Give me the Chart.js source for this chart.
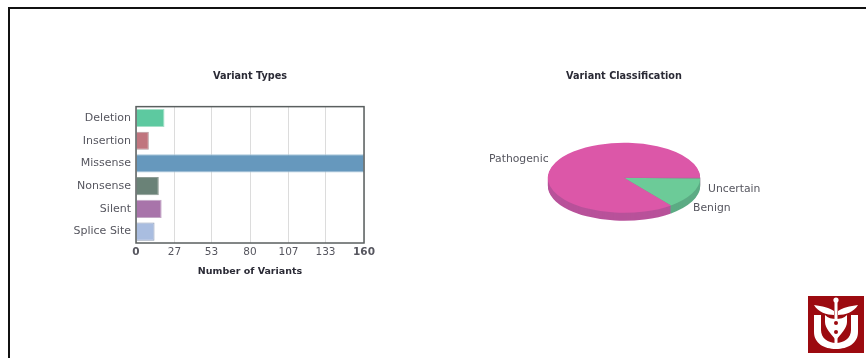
<!DOCTYPE html>
<html>
<head>
<meta charset="utf-8">
<title>Variant summary</title>
<script src="https://cdn.jsdelivr.net/npm/chart.js@4"></script>
<style>
  html, body { margin: 0; padding: 0; background: #fff; width: 866px; height: 358px; overflow: hidden; }
  canvas { position: absolute; }
  #frame { position: absolute; left: 8px; top: 7px; width: 870px; height: 360px; border: 2px solid #111; box-sizing: border-box; }
  #crest { position: absolute; left: 808px; top: 296px; width: 56px; height: 57px; }
</style>
</head>
<body>
<div id="frame"></div>
<canvas id="types" width="420" height="230" style="left:40px;top:60px"></canvas>
<canvas id="classes" width="308" height="196" style="left:470px;top:60px"></canvas>
<svg id="crest" viewBox="0 0 56 57">
  <rect width="56" height="57" fill="#9c0a10"/>
  <path d="M6 19h7v15c0 8 7 13 15 13s15-5 15-13V19h7v17c0 11-10 17-22 17S6 47 6 36z" fill="#fff"/>
  <path d="M6 9c8 1 16 3 20 6v4C19 19 10 16 6 9zM50 9c-8 1-16 3-20 6v4c7 0 16-3 20-10z" fill="#fff"/>
  <path d="M17 19c3 3 7 4 11 4s8-1 11-4v7c0 6-6 12-11 18-5-6-11-12-11-18z" fill="#fff"/>
  <rect x="26.5" y="3" width="3" height="44" fill="#fff"/>
  <circle cx="28" cy="4" r="2.6" fill="#fff"/>
  <circle cx="28" cy="27" r="2" fill="#9c0a10"/>
  <circle cx="28" cy="36" r="2" fill="#9c0a10"/>
</svg>
<script>
// Variant type counts
const typeLabels = ['Deletion', 'Insertion', 'Missense', 'Nonsense', 'Silent', 'Splice Site'];
const typeCounts = [20, 9, 160, 16, 18, 13];
const typeColors = ['#5dc9a0', '#c0757e', '#6698bd', '#6a8277', '#a874aa', '#a9bde0'];
const typeEdges = ['#a5e0c8', '#b59a9e', '#a9c6da', '#8f9c95', '#c3a8c5', '#8f9cb4'];
const countTicks = [0, 27, 53, 80, 107, 133, 160];

// Variant classification counts
const classLabels = ['Uncertain', 'Benign', 'Pathogenic'];
const classCounts = [1, 33, 202];
const classColors = ['#7d9c8c', '#6ccb98', '#dc57a8'];
const classSides = ['#6a9a82', '#5cab84', '#b8529a'];

const fontFamily = '"DejaVu Sans", Verdana, sans-serif';
const titleColor = '#2a2a35';
const labelColor = '#56565f';

// Outlines the plot area on all four sides, above the bars
const plotFrame = {
  id: 'plotFrame',
  afterDatasetsDraw(chart) {
    const { ctx, chartArea: a } = chart;
    ctx.save();
    ctx.strokeStyle = '#5a5f5f';
    ctx.lineWidth = 1.5;
    ctx.strokeRect(a.left, a.top, a.right - a.left, a.bottom - a.top);
    ctx.restore();
  }
};

new Chart(document.getElementById('types'), {
  type: 'bar',
  data: {
    labels: typeLabels,
    datasets: [{
      data: typeCounts,
      backgroundColor: typeColors,
      borderColor: typeEdges,
      borderWidth: 1,
      categoryPercentage: 1,
      barPercentage: 0.8
    }]
  },
  options: {
    indexAxis: 'y',
    responsive: false,
    animation: false,
    layout: { padding: { right: 96, bottom: 13 } },
    plugins: {
      legend: { display: false },
      tooltip: { enabled: false },
      title: {
        display: true,
        fullSize: false,
        text: 'Variant Types',
        color: titleColor,
        font: { family: fontFamily, size: 9.7, weight: 'bold' },
        padding: { top: 11, bottom: 24 }
      }
    },
    scales: {
      x: {
        min: 0,
        max: 160,
        afterBuildTicks(scale) { scale.ticks = countTicks.map(v => ({ value: v })); },
        grid: { color: '#dcdcdc', lineWidth: 1, drawTicks: false },
        border: { display: false },
        ticks: {
          color: labelColor,
          padding: 3,
          maxRotation: 0,
          autoSkip: false,
          font: c => ({
            family: fontFamily,
            size: 10.5,
            weight: (c.index === 0 || c.index === countTicks.length - 1) ? 'bold' : 'normal'
          })
        },
        title: {
          display: true,
          text: 'Number of Variants',
          color: titleColor,
          font: { family: fontFamily, size: 9.5, weight: 'bold' },
          padding: { top: 4, bottom: 0 }
        }
      },
      y: {
        afterFit(scale) { scale.width = 96; },
        grid: { display: false, drawTicks: false },
        border: { display: false },
        ticks: {
          color: labelColor,
          padding: 5,
          font: { family: fontFamily, size: 11 }
        }
      }
    }
  },
  plugins: [plotFrame]
});

// Slice label anchors, measured from the pie centre
const labelOffsets = {
  Pathogenic: [-135, -19],
  Benign: [69, 30],
  Uncertain: [84, 11]
};

// Tilts the pie into an ellipse and gives it a rim below the top face
const tiltRatio = 0.46;
const rimDepth = 8;
const tiltedPie = {
  id: 'tiltedPie',
  beforeDatasetsDraw(chart) {
    const { ctx } = chart;
    const arcs = chart.getDatasetMeta(0).data;
    const { x: cx, y: cy } = arcs[0];
    const tilt = () => {
      ctx.translate(cx, cy);
      ctx.scale(1, tiltRatio);
      ctx.translate(-cx, -cy);
    };
    for (let d = rimDepth; d >= 1; d--) {
      arcs.forEach((arc, i) => {
        ctx.save();
        ctx.translate(0, d);
        tilt();
        ctx.beginPath();
        ctx.moveTo(cx, cy);
        ctx.arc(cx, cy, arc.outerRadius, arc.startAngle, arc.endAngle);
        ctx.closePath();
        ctx.fillStyle = classSides[i];
        ctx.fill();
        ctx.restore();
      });
    }
    ctx.save();
    tilt();
  },
  afterDatasetsDraw(chart) {
    const { ctx } = chart;
    ctx.restore();
    ctx.save();
    ctx.fillStyle = labelColor;
    ctx.font = '10.8px ' + fontFamily;
    ctx.textBaseline = 'middle';
    const { x: cx, y: cy } = chart.getDatasetMeta(0).data[0];
    classLabels.forEach(label => {
      const spot = labelOffsets[label];
      ctx.fillText(label, cx + spot[0], cy + spot[1]);
    });
    ctx.restore();
  }
};

new Chart(document.getElementById('classes'), {
  type: 'pie',
  data: {
    labels: classLabels,
    datasets: [{
      data: classCounts,
      backgroundColor: classColors,
      borderWidth: 0
    }]
  },
  options: {
    responsive: false,
    animation: false,
    rotation: 90,
    layout: { padding: { top: 0, bottom: 2 } },
    plugins: {
      legend: { display: false },
      tooltip: { enabled: false },
      title: {
        display: true,
        text: 'Variant Classification',
        color: titleColor,
        font: { family: fontFamily, size: 9.7, weight: 'bold' },
        padding: { top: 11, bottom: 19 }
      }
    }
  },
  plugins: [tiltedPie]
});
</script>
</body>
</html>
